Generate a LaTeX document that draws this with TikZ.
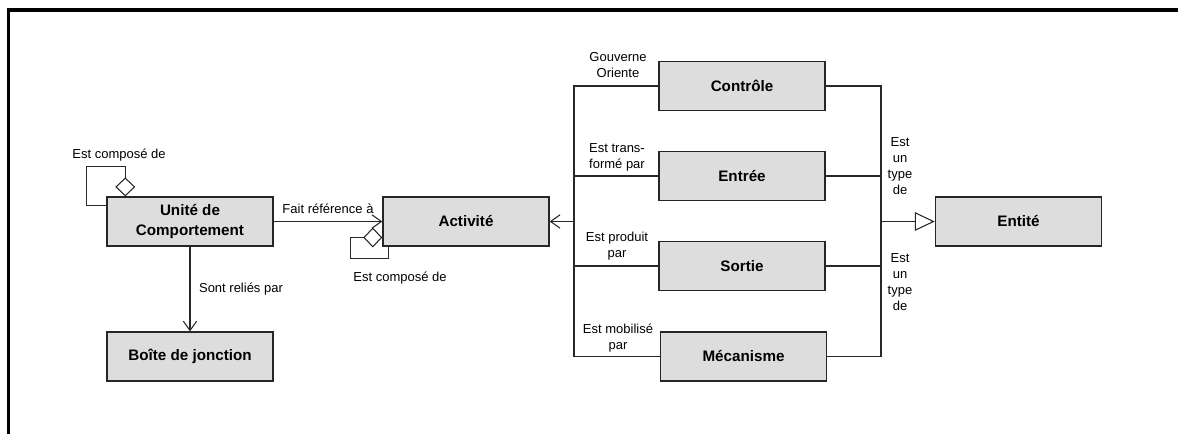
\documentclass[tikz,border=0pt]{standalone}
\usepackage{fontspec}
\setmainfont{Liberation Sans}
\usetikzlibrary{arrows.meta,calc}
\definecolor{boxgray}{RGB}{221,221,221}
\definecolor{linegray}{RGB}{40,40,40}
\begin{document}
\begin{tikzpicture}[x=0.75pt,y=-0.75pt,
  box/.style={draw=black!85, line width=1.1pt, fill=boxgray, minimum width=124.5pt,
    minimum height=36.5pt, inner sep=0pt, align=center,
    font=\bfseries\fontsize{11.4}{15}\selectfont},
  lbl/.style={inner sep=0pt, align=center, font=\fontsize{9.75}{12}\selectfont},
  conn/.style={draw=linegray, line width=0.8pt},
  barb/.style={-{Straight Barb[length=7pt,width=10pt,line width=0.8pt]}},
  tri/.style={-{Triangle[open,length=15pt,width=14pt,fill=white,line width=0.8pt]}},
  dia/.style={{Diamond[open,length=14.25pt,width=15pt,fill=white,line width=0.8pt]}-}
]
\useasboundingbox (0,0) rectangle (1178,434);
% frame
\draw[line width=2.4pt] (8.5,440) -- (8.5,10) -- (1190,10);

% boxes
\node[box] (uc)  at (190,221.5) {Unité de\\Comportement};
\node[box] (bj)  at (190,356.5) {Boîte de jonction};
\node[box] (act) at (466,221.5) {Activité};
\node[box] (ctl) at (742,86)    {Contrôle};
\node[box] (ent) at (742,176)   {Entrée};
\node[box] (sor) at (742,266)   {Sortie};
\node[box] (mec) at (743.5,356.5) {Mécanisme};
\node[box] (eti) at (1018.5,221.5) {Entité};

% buses
\coordinate (lb) at (574,221.5);
\coordinate (rb) at (881,221.5);

\draw[conn] (ctl.west) -| (lb);
\draw[conn] (ent.west) -| (lb);
\draw[conn] (sor.west) -| (lb);
\draw[conn,line width=1.2pt] (mec.west) -| (lb);
\draw[conn,barb] (lb) -- (act.east);

\draw[conn] (ctl.east) -| (rb);
\draw[conn] (ent.east) -| (rb);
\draw[conn] (sor.east) -| (rb);
\draw[conn] (mec.east) -| (rb);
\draw[conn,tri] (rb) -- (eti.west);

% other connectors
\draw[conn,barb] (uc.east) -- (act.west);
\draw[conn,barb] (uc.south) -- (bj.north);

% self loops
\draw[conn,dia] ($(uc.north west)+(19,0)$) -- ++(0,-30) -- ++(-39,0) -- ++(0,39) -- ($(uc.north west)+(0,9)$);
\draw[conn,dia] ($(act.west)+(0,16)$) -- ++(-32,0) -- ++(0,21) -- ++(38,0) -- ($(act.south west)+(6,0)$);

% labels
\node[lbl] (l1) at (119,155) {Est composé de};
\node[lbl] (l2) at (400,278) {Est composé de};
\node[lbl] (l3) at (328,209) {Fait référence à};
\node[lbl] (l4) at (241,289) {Sont reliés par};
\node[lbl] (l5) at (618,65)  {Gouverne\\Oriente};
\node[lbl] (l6) at (617,157) {Est trans-\\formé par};
\node[lbl] (l7) at (617,246) {Est produit\\par};
\node[lbl] (l8) at (618,338) {Est mobilisé\\par};
\node[lbl] (l9) at (900,166) {Est\\un\\type\\de};
\node[lbl] (l10) at (900,282) {Est\\un\\type\\de};
\end{tikzpicture}
\end{document}
